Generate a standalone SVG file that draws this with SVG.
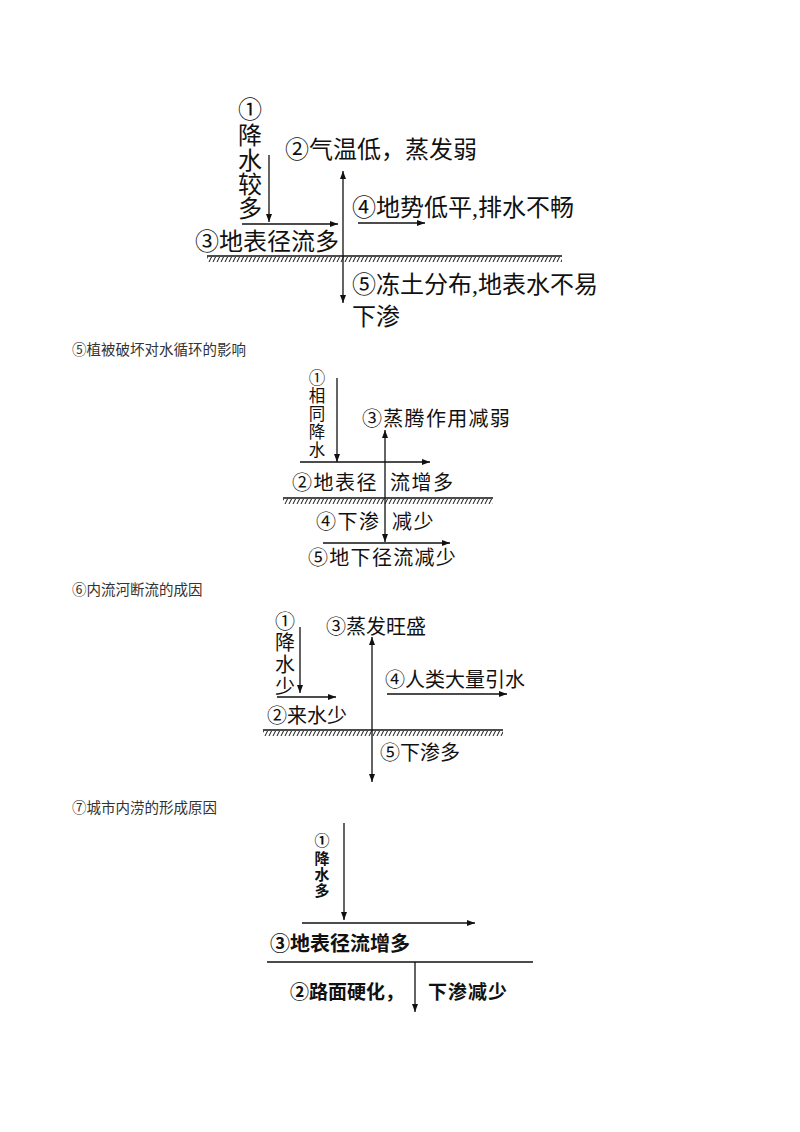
<svg xmlns="http://www.w3.org/2000/svg" width="800" height="1132" viewBox="0 0 800 1132">
<style>
text{font-family:"Liberation Serif","Noto Sans CJK SC",serif;fill:#111}
.t24{font-size:24px}
.t20{font-size:20px}
.t17{font-size:16.5px}
.h{font-size:14.5px;fill:#333}
.b{font-weight:bold}
.ln{stroke:#111;stroke-width:1.3;fill:none}
.a{marker-end:url(#ah)}
.aa{marker-start:url(#ah);marker-end:url(#ah)}
</style>
<defs>
<marker id="ah" viewBox="0 0 8 6" refX="8" refY="3" markerWidth="8" markerHeight="6" markerUnits="userSpaceOnUse" orient="auto-start-reverse">
<path d="M0,0 L8,3 L0,6 z" fill="#111"/>
</marker>
<pattern id="hatch" patternUnits="userSpaceOnUse" width="4" height="5">
<line x1="3.5" y1="0" x2="1" y2="5" stroke="#111" stroke-width="1"/>
</pattern>
</defs>

<g id="diagram1">
<g id="d1-n1" class="t24">
<text x="250" y="118" text-anchor="middle">①</text>
<text x="250" y="144" text-anchor="middle">降</text>
<text x="250" y="169" text-anchor="middle">水</text>
<text x="250" y="193" text-anchor="middle">较</text>
<text x="250" y="217" text-anchor="middle">多</text>
</g>
<g id="d1-n2"><text class="t24" x="285" y="158">②气温低，蒸发弱</text></g>
<g id="d1-n3"><text class="t24" x="195" y="250">③地表径流多</text></g>
<g id="d1-n4"><text class="t24" x="352" y="216">④地势低平,排水不畅</text></g>
<g id="d1-n5"><text class="t24" x="352" y="293">⑤冻土分布,地表水不易</text><text class="t24" x="352" y="325">下渗</text></g>
<g id="d1-ground">
<line class="ln" x1="207" y1="256" x2="562" y2="256"/>
<g transform="translate(0,257)"><rect x="207" y="0" width="355" height="5" fill="url(#hatch)"/></g>
</g>
</g>

<g id="heading5"><text class="h" x="72" y="355">⑤植被破坏对水循环的影响</text></g>
<g id="diagram2">
<g id="d2-n1" class="t17">
<text x="317" y="384" text-anchor="middle">①</text>
<text x="317" y="402" text-anchor="middle">相</text>
<text x="317" y="420" text-anchor="middle">同</text>
<text x="317" y="438" text-anchor="middle">降</text>
<text x="317" y="456" text-anchor="middle">水</text>
</g>
<g id="d2-n3"><text class="t20" x="362" y="425.5" letter-spacing="1.3">③蒸腾作用减弱</text></g>
<g id="d2-n2"><text class="t20" x="292" y="490" letter-spacing="1.5">②地表径</text><text class="t20" x="390" y="490" letter-spacing="1.5">流增多</text></g>
<g id="d2-n4"><text class="t20" x="316" y="529" letter-spacing="1.5">④下渗</text><text class="t20" x="392" y="529" letter-spacing="1.5">减少</text></g>
<g id="d2-n5"><text class="t20" x="308" y="565" letter-spacing="1.3">⑤地下径流减少</text></g>
<g id="d2-ground">
<line class="ln" x1="283" y1="498" x2="493" y2="498"/>
<g transform="translate(0,499)"><rect x="283" y="0" width="210" height="5" fill="url(#hatch)"/></g>
</g>
</g>

<g id="heading6"><text class="h" x="72" y="595">⑥内流河断流的成因</text></g>
<g id="diagram3">
<g id="d3-n1" class="t20">
<text x="285" y="629" text-anchor="middle">①</text>
<text x="285" y="650" text-anchor="middle">降</text>
<text x="285" y="672" text-anchor="middle">水</text>
<text x="285" y="694" text-anchor="middle">少</text>
</g>
<g id="d3-n3"><text class="t20" x="326" y="633.5">③蒸发旺盛</text></g>
<g id="d3-n4"><text class="t20" x="385" y="686.5">④人类大量引水</text></g>
<g id="d3-n2"><text class="t20" x="267" y="722.5">②来水少</text></g>
<g id="d3-n5"><text class="t20" x="380" y="760">⑤下渗多</text></g>
<g id="d3-ground">
<line class="ln" x1="263" y1="730" x2="503" y2="730"/>
<g transform="translate(0,731)"><rect x="263" y="0" width="240" height="5" fill="url(#hatch)"/></g>
</g>
</g>

<g id="heading7"><text class="h" x="72" y="813">⑦城市内涝的形成原因</text></g>
<g id="diagram4">
<g id="d4-n1" class="b" font-size="15">
<text x="322" y="846" text-anchor="middle">①</text>
<text x="322" y="864" text-anchor="middle">降</text>
<text x="322" y="880" text-anchor="middle">水</text>
<text x="322" y="896" text-anchor="middle">多</text>
</g>
<g id="d4-n3"><text class="t20 b" x="270" y="950.5">③地表径流增多</text></g>
<g id="d4-n2"><text class="b" font-size="19" x="290" y="998.5">②路面硬化，</text><text class="b" font-size="19" x="428" y="998.5" letter-spacing="1">下渗减少</text></g>
<g id="d4-ground"><line class="ln" x1="267" y1="962" x2="533" y2="962" stroke-width="1.6"/></g>
</g>

<g id="connectors">
<line class="ln a" x1="269" y1="155" x2="269" y2="222"/>
<line class="ln a" x1="242" y1="224" x2="338" y2="224"/>
<line class="ln aa" x1="343" y1="171" x2="343" y2="303"/>
<line class="ln a" x1="358" y1="223" x2="425" y2="223"/>

<line class="ln a" x1="337" y1="378" x2="337" y2="462"/>
<line class="ln a" x1="300" y1="462" x2="430" y2="462"/>
<line class="ln aa" x1="385" y1="430" x2="385" y2="542"/>
<line class="ln a" x1="323" y1="543" x2="450" y2="543"/>

<line class="ln a" x1="300" y1="627" x2="300" y2="693"/>
<line class="ln a" x1="277" y1="697" x2="336" y2="697"/>
<line class="ln aa" x1="372" y1="637" x2="372" y2="782"/>
<line class="ln a" x1="387" y1="694" x2="507" y2="694"/>

<line class="ln a" x1="344" y1="823" x2="344" y2="920"/>
<line class="ln a" x1="302" y1="923" x2="475" y2="923"/>
<line class="ln a" x1="415" y1="962" x2="415" y2="1012"/>
</g>
</svg>
